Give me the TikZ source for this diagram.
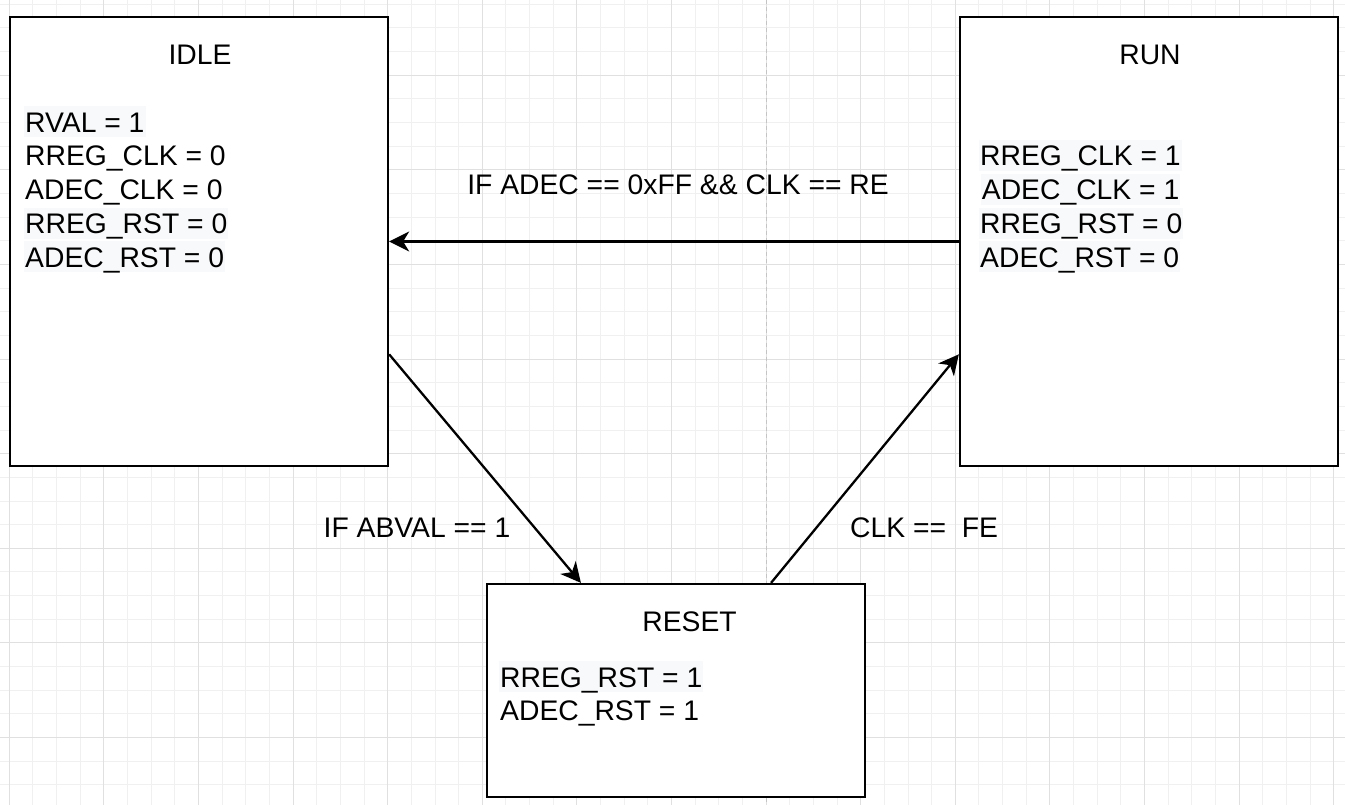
\documentclass[tikz,border=0pt]{standalone}
\usepackage{fontspec}
\setmainfont{Liberation Sans}
\usetikzlibrary{arrows.meta,calc}
\definecolor{gridminor}{RGB}{240,240,240}
\definecolor{gridmajor}{RGB}{224,224,224}
\definecolor{pageline}{RGB}{196,196,196}
\definecolor{hl}{RGB}{248,249,250}
\tikzset{
  statebox/.style={draw=black, fill=white, line width=2.3pt, inner sep=0pt, rectangle},
  txt/.style={inner sep=0pt, font=\fontsize{28.3}{34}\selectfont},
  line/.style={txt, anchor=base west, text height=26pt, text depth=5pt, inner xsep=1pt},
  hline/.style={line, fill=hl},
  title/.style={txt, anchor=base},
  conn/.style={line width=2.3pt, -{Stealth[length=20pt,width=20pt,inset=6pt]}},
}
\begin{document}
\begin{tikzpicture}[x=1pt,y=-1pt]
\useasboundingbox (0,0) rectangle (1345,805);
\fill[white] (0,0) rectangle (1345,805);
% grid
\foreach \k in {0,...,56}{
  \pgfmathsetmacro{\xx}{9.3+23.65*\k}
  \draw[gridminor, line width=1pt] (\xx,0) -- (\xx,805);
}
\foreach \k in {0,...,33}{
  \pgfmathsetmacro{\yy}{4.35+23.65*\k}
  \draw[gridminor, line width=1pt] (0,\yy) -- (1345,\yy);
}
\foreach \k in {0,4,...,56}{
  \pgfmathsetmacro{\xx}{9.3+23.65*\k}
  \draw[gridmajor, line width=1pt] (\xx,0) -- (\xx,805);
}
\foreach \k in {3,7,...,33}{
  \pgfmathsetmacro{\yy}{4.35+23.65*\k}
  \draw[gridmajor, line width=1pt] (0,\yy) -- (1345,\yy);
}
% page break line
\draw[pageline, line width=1pt, dash pattern=on 4pt off 3pt] (766,0) -- (766,805);

% states
\node[statebox, minimum width=378pt, minimum height=449pt] (idle) at (199,241.5) {};
\node[statebox, minimum width=378pt, minimum height=449pt] (run) at (1149,241.5) {};
\node[statebox, minimum width=378pt, minimum height=213pt] (reset) at (676,690.5) {};

% IDLE texts
\node[title] (idleT) at (200,64.2) {IDLE};
\node[hline] (i1) at (24,132.2) {RVAL = 1};
\node[line] (i2) at (24,166) {RREG\_CLK = 0};
\node[line] (i3) at (24,199.8) {ADEC\_CLK = 0};
\node[hline] (i4) at (24,233.6) {RREG\_RST = 0};
\node[hline] (i5) at (24,267.4) {ADEC\_RST = 0};

% RUN texts
\node[title] (runT) at (1150,64.2) {RUN};
\node[hline] (r1) at (979,166) {RREG\_CLK = 1};
\node[hline] (r2) at (980.7,199.8) {ADEC\_CLK = 1};
\node[hline] (r3) at (979,233.6) {RREG\_RST = 0};
\node[hline] (r4) at (979,267.4) {ADEC\_RST = 0};

% RESET texts
\node[title] (resetT) at (689.5,631.7) {RESET};
\node[hline] (s1) at (499,687.3) {RREG\_RST = 1};
\node[line] (s2) at (499,720.8) {ADEC\_RST = 1};

% connection points
\coordinate (idleOut) at ($(idle.north east)!0.75!(idle.south east)$);
\coordinate (resetIn) at ($(reset.north west)!0.25!(reset.north east)$);
\coordinate (resetOut) at ($(reset.north west)!0.75!(reset.north east)$);
\coordinate (runIn) at ($(run.north west)!0.75!(run.south west)$);

% connectors
\draw[conn] (run.west) -- (idle.east);
\draw[conn] (idleOut) -- (resetIn);
\draw[conn] (resetOut) -- (runIn);

% labels
\node[title] (l1) at (678,195) {IF ADEC == 0xFF \&\& CLK == RE};
\node[title] (l2) at (417,537) {IF ABVAL == 1};
\node[txt, anchor=base west] (l3) at (850,537) {CLK ==\ \ FE};
\end{tikzpicture}
\end{document}
